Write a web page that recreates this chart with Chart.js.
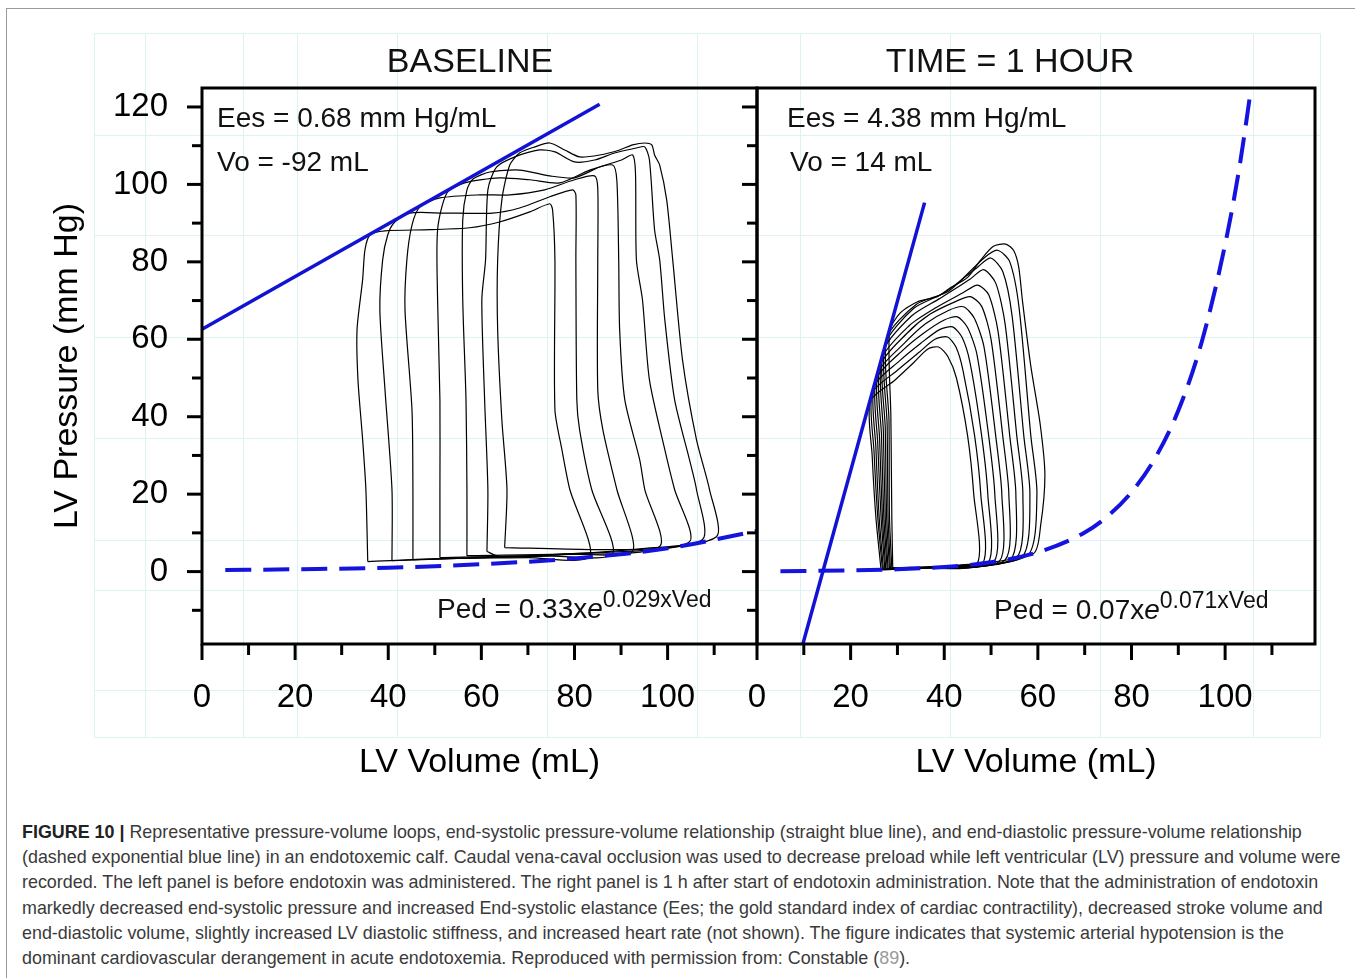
<!DOCTYPE html>
<html>
<head>
<meta charset="utf-8">
<title>Pressure-volume loops</title>
<script src="https://cdn.jsdelivr.net/npm/chart.js@4.4.1/dist/chart.umd.min.js"></script>
<style>
body { margin: 0; background: #fff; width: 1355px; height: 978px; overflow: hidden; position: relative; font-family: "Liberation Sans", Arial, sans-serif; }
#border { position: absolute; left: 6px; top: 8px; width: 1400px; height: 1000px; border: 1.5px solid #9a9a9a; }
.paper-line { position: absolute; background: #def2f4; }
canvas { position: absolute; top: 0; }
#baseline-chart { left: 0; }
#hour-chart { left: 697px; }
.panel-title { position: absolute; top: 43px; width: 400px; text-align: center; font-size: 34px; line-height: 1; color: #111; }
.note { position: absolute; font-size: 28px; line-height: 1; white-space: nowrap; color: #111; }
.note .sup { font-size: 23px; position: relative; top: -11px; }
#caption { position: absolute; left: 22px; top: 820px; font-size: 17.9px; line-height: 25.2px; color: #3a3a3a; white-space: nowrap; }
#caption b { color: #222; }
#caption .ref { color: #999; }
</style>
</head>
<body>
<div id="border"></div>
<div id="paper"></div>
<canvas id="baseline-chart" width="770" height="800"></canvas>
<canvas id="hour-chart" width="640" height="800"></canvas>

<div class="panel-title" style="left:270px">BASELINE</div>
<div class="panel-title" style="left:810px">TIME = 1 HOUR</div>

<div class="note" style="left:217px; top:104px">Ees = 0.68 mm Hg/mL</div>
<div class="note" style="left:217px; top:148px">Vo = -92 mL</div>
<div class="note" style="left:437px; top:595px">Ped = 0.33x<i>e</i><span class="sup">0.029xVed</span></div>

<div class="note" style="left:787px; top:104px">Ees = 4.38 mm Hg/mL</div>
<div class="note" style="left:790px; top:148px">Vo = 14 mL</div>
<div class="note" style="left:994px; top:596px">Ped = 0.07x<i>e</i><span class="sup">0.071xVed</span></div>

<div id="caption"><b>FIGURE 10 |</b> Representative pressure-volume loops, end-systolic pressure-volume relationship (straight blue line), and end-diastolic pressure-volume relationship<br>(dashed exponential blue line) in an endotoxemic calf. Caudal vena-caval occlusion was used to decrease preload while left ventricular (LV) pressure and volume were<br>recorded. The left panel is before endotoxin was administered. The right panel is 1 h after start of endotoxin administration. Note that the administration of endotoxin<br>markedly decreased end-systolic pressure and increased End-systolic elastance (Ees; the gold standard index of cardiac contractility), decreased stroke volume and<br>end-diastolic volume, slightly increased LV diastolic stiffness, and increased heart rate (not shown). The figure indicates that systemic arterial hypotension is the<br>dominant cardiovascular derangement in acute endotoxemia. Reproduced with permission from: Constable (<span class="ref">89</span>).</div>

<script>
/* Tick labels */
let volumeLabels = [0, 20, 40, 60, 80, 100]
let pressureLabels = [0, 20, 40, 60, 80, 100, 120]

/* Baseline panel: [volume mL, pressure mm Hg] */
let baselineEspvr = [[0, 62.6], [85.4, 120.7]]
let baselineEdpvr = [[5, 0.4], [20, 0.6], [40, 1.0], [60, 1.9], [80, 3.4], [100, 6.0], [119.2, 10.5]]
let baselineLoops = [
    [[35.6,2.6],[53.2,3.4],[70,3.6],[83.3,3.9],[79.0,21.2],[77.3,31.5],[75.8,41.8],[75.8,80.5],[75.3,93.4],[74.7,95.0],[70.4,92.9],[63.9,90.3],[57.5,88.8],[48.9,88.3],[39.3,88.0],[36.1,87.0],[35.0,83.1],[34.5,75.4],[33.3,62.5],[33.5,49.5],[34.5,34.1],[35.2,21.2],[35.6,2.6]],
    [[40.8,2.8],[59.7,3.6],[75,4.0],[88.2,4.6],[83.7,21.2],[81.1,36.6],[80.5,44.4],[80.3,80.5],[80.3,97.3],[79.6,98.6],[74.7,96.8],[68.2,93.9],[62.4,92.6],[52,92.6],[44.6,92.6],[41.4,90.3],[39.9,87.0],[38.8,80.5],[38.2,67.6],[39.3,47.0],[40.8,21.2],[40.8,2.8]],
    [[45.3,3.1],[68.2,3.9],[80,4.5],[92.5,5.2],[89.1,21.2],[86.1,36.6],[85.0,47.0],[85.0,80.5],[85.0,99],[84.3,102.2],[80.0,101.2],[73.6,98.6],[66.1,97.3],[59.7,97.3],[51.1,96.5],[46.8,94.2],[45.1,89.5],[44.0,80.5],[43.6,67.6],[45.1,41.8],[45.3,21.2],[45.3,3.1]],
    [[51.1,3.6],[76.8,4.4],[98.3,6.5],[95.1,21.2],[94.0,28.9],[90.8,44.4],[89.7,62.5],[89.5,80.5],[89.1,101],[88.2,105.0],[83.3,103.7],[76.8,100.4],[70.4,101.2],[63.9,101.7],[56.4,100.4],[52.6,97.8],[50.6,88.3],[50.6,70.2],[51.1,44.4],[51.1,21.2],[51.1,3.6]],
    [[56.9,4.1],[85.4,4.9],[104.7,7.7],[101.5,21.2],[99.4,31.5],[96.1,49.5],[94.6,70.2],[93.3,80.5],[93.1,103],[92.5,107.6],[90.1,106.3],[85.4,104.5],[80.0,101.7],[74.7,102.2],[68.2,103.7],[61.8,103.2],[58.2,101.4],[56.9,98.6],[56.0,90.8],[56.0,70.2],[56.7,44.4],[56.9,21.2],[56.9,4.1]],
    [[61.2,5.2],[63.9,3.9],[89.7,5.4],[107.5,8.3],[106.2,21.2],[104.7,28.9],[101.5,44.4],[99.4,65.0],[98.3,80.5],[97.2,88.3],[96.1,106.3],[95.1,109.7],[93.3,109.4],[88.6,108.1],[84.3,106.3],[80.0,105.8],[75.8,108.4],[72.5,108.9],[67.2,107.1],[63.3,104.5],[61.4,98.6],[60.9,80.5],[60.1,70.2],[60.7,44.4],[61.4,21.2],[61.2,5.2]],
    [[65.0,6.2],[83.3,5.7],[94.0,5.9],[110.5,9.0],[109.0,21.2],[106.2,34.1],[103.2,54.7],[101.1,80.5],[99.8,96.0],[98.3,105.0],[97.2,107.6],[96.6,110.2],[95.1,110.7],[92.5,110.2],[89.7,108.9],[85.4,107.6],[81.1,107.1],[77.9,108.9],[74.7,110.7],[71.5,109.7],[68.2,108.1],[66.1,105.0],[64.4,96.0],[63.5,80.5],[63.5,62.5],[64.4,39.2],[65.5,21.2],[65.0,6.2]]
]

/* One hour panel */
let hourEspvr = [[9.8, -18.7], [35.8, 95.3]]
let hourEdpvr = [[5, 0.1], [20, 0.3], [30, 0.6], [40, 1.2], [50, 2.4], [60, 5.0], [70, 10.1], [75, 14.4], [80, 20.5], [85, 29.2], [90, 41.6], [95, 59.3], [100, 84.5], [103, 104], [105.8, 127]]
let hourLoops = [
    [[26.5,0.5],[36,0.9],[47.0,2.0],[46.3,20],[45.0,35],[42.6,50],[40.8,55.5],[38.8,58],[36.5,57.5],[33.5,54],[29.5,49.5],[24.2,44],[24.6,30],[25.4,14],[26.5,0.5]],
    [[26.8,0.5],[37,1.0],[48.2,2.1],[47.8,20],[46.5,35],[44.0,52],[42.5,58],[40.7,60.6],[38,60],[34.5,56.5],[30,52],[24.6,46],[25.0,31],[25.8,14],[26.8,0.5]],
    [[27.0,0.6],[38,1.1],[49.4,2.3],[49.3,20],[48.0,35],[45.5,54],[43.8,60.5],[41.8,63.2],[39,62.5],[35,59],[30.5,54.5],[25.0,47.8],[25.4,32],[26.1,14],[27.0,0.6]],
    [[27.3,0.6],[38,1.1],[50.6,2.5],[50.8,20],[49.5,35],[47.0,56],[45,63],[42.8,65.8],[40,65],[35.5,61.5],[31,57],[25.4,49.5],[25.8,33],[26.5,14],[27.3,0.6]],
    [[27.5,0.7],[39,1.2],[51.8,2.7],[52.3,20],[51.0,35],[48.5,58],[46.4,65.5],[44.1,68.4],[41,67.5],[36,64],[31.5,59],[25.8,51.2],[26.2,34],[26.8,14],[27.5,0.7]],
    [[27.8,0.7],[39,1.2],[53.0,3.0],[53.8,20],[52.5,35],[50.0,60],[48,68.5],[45.6,71],[42.5,69.8],[37,66.5],[32,61.5],[26.2,53],[26.6,35],[27.1,14],[27.8,0.7]],
    [[28.0,0.8],[40,1.3],[54.2,3.2],[55.3,20],[54.0,35],[51.5,62],[49.5,71.5],[47.1,74],[44,72],[38,68],[32.5,63.5],[26.6,54.8],[27.0,36],[27.4,14],[28.0,0.8]],
    [[28.3,0.8],[40,1.3],[55.4,3.5],[56.8,20],[55.5,35],[53.0,64],[51,74.5],[48.4,78],[45.5,75.5],[39,70.5],[33,66],[26.9,56.6],[27.4,37],[27.7,14],[28.3,0.8]],
    [[28.5,0.9],[41,1.4],[56.6,3.8],[58.3,20],[57.0,35],[54.5,66],[52.5,77.5],[49.9,81],[47,78.5],[40,72],[33.5,68],[27.3,58.4],[27.8,38],[28.0,14],[28.5,0.9]],
    [[28.8,0.9],[41,1.4],[57.8,4.2],[59.8,20],[58.5,35],[56,68],[54,80],[51.4,83],[48.5,81],[41,72.5],[34,69],[27.7,60.2],[28.2,39],[28.3,14],[28.8,0.9]],
    [[29.0,1.0],[42,1.5],[59.0,4.6],[60.6,12],[61.5,25],[60.5,38],[58.5,53],[56.7,70],[55.9,78.7],[54.8,83],[53.1,84.6],[50.5,84],[47.8,80.5],[45,76],[41.3,73.3],[38.5,71],[34.3,69.7],[30.6,66.8],[28.3,62],[28.6,40],[28.8,14],[29.0,1.0]]
]

/* Faint graph-paper lines behind the figure */
let paperCols = [94, 145, 243, 297, 397, 547, 697, 800, 950, 1100, 1253, 1320]
let paperRows = [33, 135, 235, 337, 438, 540, 590, 690, 737]
let paper = document.querySelector('#paper')
paperCols.forEach(function(x) {
    let d = document.createElement('div')
    d.className = 'paper-line'
    d.style.cssText = 'left:' + x + 'px; top:33px; width:1px; height:705px'
    paper.appendChild(d)
})
paperRows.forEach(function(y) {
    let d = document.createElement('div')
    d.className = 'paper-line'
    d.style.cssText = 'left:94px; top:' + y + 'px; width:1227px; height:1px'
    paper.appendChild(d)
})

Chart.defaults.font.family = '"Liberation Sans", Arial, sans-serif'
Chart.defaults.color = '#000'

// Thick box round the plot, plus long (labelled) and short tick marks outside it
let frameTicks = {
    id: 'frameTicks',
    afterDraw(chart) {
        let ctx = chart.ctx
        let area = chart.chartArea
        let xScale = chart.scales.x
        let yScale = chart.scales.y
        ctx.save()
        ctx.strokeStyle = '#000'
        ctx.lineWidth = 3
        xScale.ticks.forEach(function(t) {
            let px = xScale.getPixelForValue(t.value)
            let len = volumeLabels.includes(t.value) ? 16 : 11
            ctx.beginPath()
            ctx.moveTo(px, area.bottom)
            ctx.lineTo(px, area.bottom + len)
            ctx.stroke()
        })
        yScale.ticks.forEach(function(t) {
            let py = yScale.getPixelForValue(t.value)
            let len = pressureLabels.includes(t.value) ? 15 : 10
            ctx.beginPath()
            ctx.moveTo(area.left, py)
            ctx.lineTo(area.left - len, py)
            ctx.stroke()
        })
        ctx.strokeRect(area.left, area.top, area.right - area.left, area.bottom - area.top)
        ctx.restore()
    }
}

function toPoints(pairs) {
    return pairs.map(function(p) { return { x: p[0], y: p[1] } })
}

// yAxisWidth has to stay above the x tick padding (34) + half a label, or Chart.js pads the left side itself
function makePanel(canvasId, loops, espvr, edpvr, yAxisWidth, rightPad, showYLabels) {
    let datasets = [
        { data: toPoints(espvr), borderColor: '#1212d4', borderWidth: 3.5 },
        { data: toPoints(edpvr), borderColor: '#1414de', borderWidth: 4, borderDash: [26, 12], cubicInterpolationMode: 'monotone' }
    ]
    loops.forEach(function(loop) {
        datasets.push({ data: toPoints(loop), borderColor: '#000', borderWidth: 1.2, tension: 0.25 })
    })
    datasets.forEach(function(d) {
        d.showLine = true
        d.pointRadius = 0
        d.fill = false
    })

    return new Chart(document.querySelector(canvasId), {
        type: 'scatter',
        data: { datasets: datasets },
        options: {
            responsive: false,
            animation: false,
            devicePixelRatio: 1,
            events: [],
            layout: { padding: { left: 0, top: 88, right: rightPad, bottom: 0 } },
            plugins: { legend: { display: false }, tooltip: { enabled: false } },
            scales: {
                x: {
                    type: 'linear', min: 0, max: 119.2,
                    afterFit: function(s) { s.height = 156 },
                    grid: { display: false, drawTicks: false, tickLength: 0 },
                    border: { display: false },
                    ticks: {
                        stepSize: 10, autoSkip: false, maxRotation: 0, minRotation: 0, includeBounds: false,
                        padding: 34, font: { size: 33 },
                        callback: function(v) { return volumeLabels.includes(v) ? String(v) : '' }
                    },
                    title: { display: true, text: 'LV Volume (mL)', font: { size: 34 }, padding: { top: 0, bottom: 17 } }
                },
                y: {
                    type: 'linear', min: -18.7, max: 124.9,
                    afterFit: function(s) { s.width = yAxisWidth },
                    grid: { display: false, drawTicks: false, tickLength: 0 },
                    border: { display: false },
                    ticks: {
                        stepSize: 10, autoSkip: false, includeBounds: false,
                        display: showYLabels, padding: 34, font: { size: 33 },
                        callback: function(v) { return pressureLabels.includes(v) ? String(v) : '' }
                    },
                    title: { display: showYLabels, text: 'LV Pressure (mm Hg)', font: { size: 34 }, padding: { top: 47, bottom: 0 } }
                }
            }
        },
        plugins: [frameTicks]
    })
}

makePanel('#baseline-chart', baselineLoops, baselineEspvr, baselineEdpvr, 202, 13, true)
makePanel('#hour-chart', hourLoops, hourEspvr, hourEdpvr, 60, 22, false)
</script>
</body>
</html>
